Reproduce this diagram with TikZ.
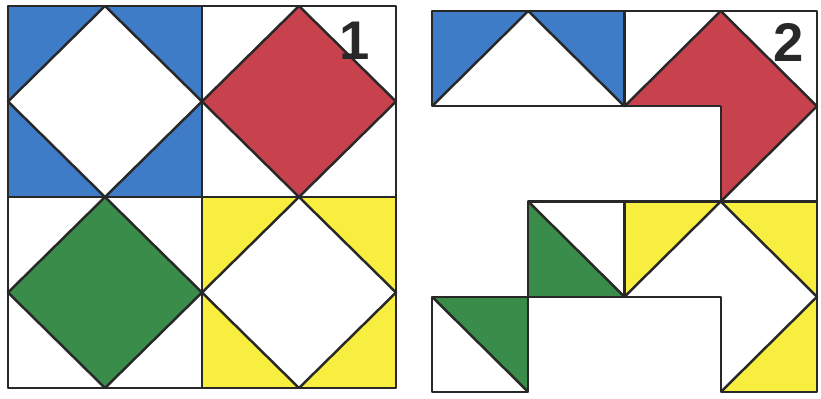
\documentclass[tikz,border=0pt]{standalone}
\usepackage{fontspec}
\setmainfont{Liberation Sans}
\definecolor{pblue}{RGB}{62,124,200}
\definecolor{pred}{RGB}{200,66,78}
\definecolor{pgreen}{RGB}{58,140,74}
\definecolor{pyellow}{RGB}{247,238,64}
\definecolor{ink}{RGB}{40,40,40}

\begin{document}
\begin{tikzpicture}[line width=1.4pt,line join=round,
  edge/.style={draw=ink},
  numlabel/.style={font=\bfseries\fontsize{31}{31}\selectfont,text=ink,inner sep=0pt}]
\useasboundingbox (0,0) rectangle (16.42,-7.96);
% ---------- (1) four quadrants, one diamond in each ----------
\begin{scope}[shift={(0.16,-0.12)},x={(1.94cm,0)},y={(0,-1.91cm)}]
\foreach \qx/\qy/\c/\inv in {0/0/pblue/1, 2/0/pred/0, 0/2/pgreen/0, 2/2/pyellow/1}{
  \ifnum\inv=1
    \fill[\c] (\qx,\qy) rectangle ++(2,2);
    \fill[white] (\qx+1,\qy) -- (\qx+2,\qy+1) -- (\qx+1,\qy+2) -- (\qx,\qy+1) -- cycle;
  \else
    \fill[\c] (\qx+1,\qy) -- (\qx+2,\qy+1) -- (\qx+1,\qy+2) -- (\qx,\qy+1) -- cycle;
  \fi
  \draw[edge] (\qx+1,\qy) -- (\qx+2,\qy+1) -- (\qx+1,\qy+2) -- (\qx,\qy+1) -- cycle;}
\draw[edge] (0,0) rectangle (4,4) (2,0) -- (2,4) (0,2) -- (4,2);
\node[numlabel,anchor=north east] (one) at (3.74,0.15) {1};
\end{scope}
% ---------- (2) the same pieces, cut and moved ----------
\begin{scope}[shift={(8.64,-0.22)},x={(1.925cm,0)},y={(0,-1.905cm)}]
% coloured triangles
\fill[pblue] (0,0) -- (1,0) -- (0,1) -- cycle (1,0) -- (2,0) -- (2,1) -- cycle;
\fill[pred] (2,1) -- (3,0) -- (4,1) -- (3,2) -- (3,1) -- cycle;
\fill[pgreen] (1,2) -- (1,3) -- (2,3) -- cycle (0,3) -- (1,3) -- (1,4) -- cycle;
\fill[pyellow] (2,2) -- (3,2) -- (2,3) -- cycle (3,2) -- (4,2) -- (4,3) -- cycle
  (4,3) -- (4,4) -- (3,4) -- cycle;
% outlines
\draw[edge] (3,1) -- (0,1) -- (0,0) -- (4,0) -- (4,4) -- (3,4) -- (3,3) -- (0,3)
  -- (0,4) -- (1,4) -- (1,2) -- (4,2);
\draw[edge] (2,0) -- (2,1) (3,1) -- (3,2) (2,2) -- (2,3);
% diagonals
\draw[edge] (0,1) -- (1,0) -- (2,1) -- (3,0) -- (4,1) -- (3,2);
\draw[edge] (1,2) -- (2,3) (0,3) -- (1,4);
\draw[edge] (2,3) -- (3,2) -- (4,3) -- (3,4);
\node[numlabel,anchor=north east] (two) at (3.875,0.115) {2};
\end{scope}
\end{tikzpicture}
\end{document}
